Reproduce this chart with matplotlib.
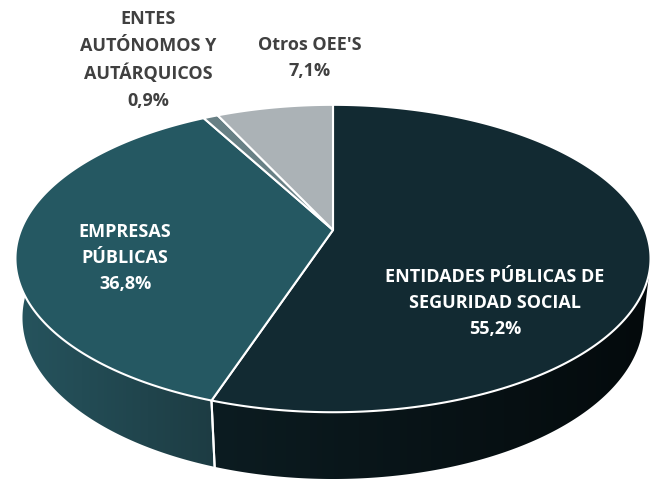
import numpy as np
import matplotlib.pyplot as plt
from matplotlib.patches import Polygon

categorias = ['ENTIDADES PÚBLICAS DE\nSEGURIDAD SOCIAL', 'EMPRESAS\nPÚBLICAS',
              'ENTES\nAUTÓNOMOS Y\nAUTÁRQUICOS', "Otros OEE'S"]
porcentajes = [55.2, 36.8, 0.9, 7.1]
etiquetas_pct = ['55,2%', '36,8%', '0,9%', '7,1%']
colores_top = ['#122a32', '#255862', '#688085', '#abb2b6']
colores_lado = [('#0c1c21', '#040a0c'), ('#26545e', '#1d3c43'), ('#566c70', '#566c70'), ('#8e9598', '#8e9598')]

# camara (perspectiva simple)
elev = np.radians(28.4)
dist = 4.74
escala = 1479.0
alto = 0.218
cx, cy = 333, 230

fig = plt.figure(figsize=(6.53, 4.8), dpi=100)
ax = fig.add_axes([0, 0, 1, 1])
ax.set_xlim(0, 653)
ax.set_ylim(480, 0)
ax.axis('off')


def proyectar(phi, z=0.0, r=1.0):
    X = r * np.cos(phi)
    Y = r * np.sin(phi)
    prof = dist + Y * np.cos(elev) - z * np.sin(elev)
    u = X * escala / prof
    v = (Y * np.sin(elev) + z * np.cos(elev)) * escala / prof
    return cx + u, cy - v


angulos = []
inicio = np.pi / 2
for p in porcentajes:
    fin = inicio - 2 * np.pi * p / 100
    angulos.append((inicio, fin))
    inicio = fin

# paredes laterales, solo la parte frontal
lim_a, lim_b = np.radians(-12), np.radians(-180 - 12)
for (a, b), (c1, c2) in zip(angulos, colores_lado):
    a2, b2 = min(a, lim_a), max(b, lim_b)
    if a2 <= b2:
        continue
    ts = np.linspace(a2, b2, 300)
    xt, yt = proyectar(ts)
    xb, yb = proyectar(ts[::-1], z=-alto)
    pts = list(zip(xt, yt)) + list(zip(xb, yb))
    poly = Polygon(pts, closed=True, facecolor='none', edgecolor='none')
    ax.add_patch(poly)
    x0, x1 = min(xt.min(), xb.min()), max(xt.max(), xb.max())
    y0, y1 = min(yt.min(), yb.min()), max(yt.max(), yb.max())
    grad = np.linspace(0, 1, 256)[None, :]
    cmap = plt.matplotlib.colors.LinearSegmentedColormap.from_list('g', [c1, c2])
    im = ax.imshow(grad, cmap=cmap, extent=[x0, x1, y1, y0], aspect='auto', zorder=1)
    im.set_clip_path(poly)
    # borde vertical entre porciones
    for t in (a, b):
        tt = np.mod(t, 2 * np.pi)
        if np.pi + 0.05 < tt < 2 * np.pi - 0.05:
            xa, ya = proyectar(t)
            xz, yz = proyectar(t, z=-alto)
            ax.plot([xa, xz], [ya, yz], color='white', lw=1.5, zorder=2)

ax.set_xlim(0, 653)
ax.set_ylim(480, 0)

# tapa superior
for (a, b), col in zip(angulos, colores_top):
    ts = np.linspace(a, b, 300)
    xs, ys = proyectar(ts)
    x0c, y0c = proyectar(0.0, r=0.0)
    pts = [(x0c, y0c)] + list(zip(xs, ys))
    ax.add_patch(Polygon(pts, closed=True, facecolor=col, edgecolor='white', lw=1.5,
                         joinstyle='round', zorder=3))

fuente = ['Open Sans', 'DejaVu Sans']
estilo = dict(ha='center', va='center', fontsize=13, fontweight='bold', family=fuente,
              linespacing=1.6, zorder=5)
ax.text(495, 303, categorias[0] + '\n' + etiquetas_pct[0], color='white', **estilo)
ax.text(125, 258, categorias[1] + '\n' + etiquetas_pct[1], color='white', **estilo)
ax.text(148, 60, categorias[2] + '\n' + etiquetas_pct[2], color='#404040', **estilo)
ax.text(310, 58, categorias[3] + '\n' + etiquetas_pct[3], color='#404040', **estilo)

fig.savefig('out.png', dpi=100)
